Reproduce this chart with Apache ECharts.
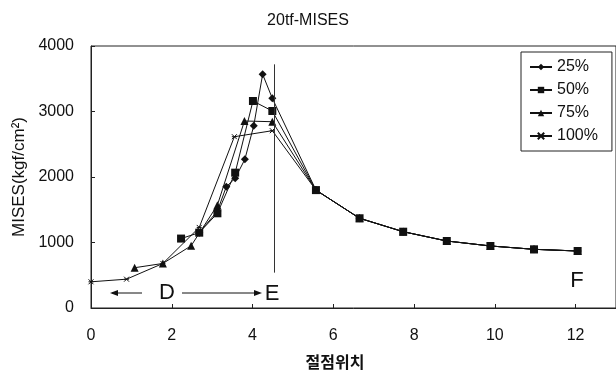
<!DOCTYPE html>
<html>
<head>
<meta charset="utf-8">
<script src="https://cdn.jsdelivr.net/npm/echarts@6/dist/echarts.min.js"></script>
<style>
  html, body { margin: 0; padding: 0; background: #fff; }
  #chart { width: 616px; height: 378px; }
</style>
</head>
<body>
<div id="chart"></div>
<script>
// node positions / MISES values
const tailX = [5.57, 6.65, 7.73, 8.81, 9.89, 10.97, 12.05];
const tailY = [1800, 1370, 1165, 1023, 947, 896, 870];

const x25 = [2.68, 3.13, 3.35, 3.57, 3.81, 4.03, 4.25, 4.49];
const y25 = [1150, 1480, 1852, 1980, 2270, 2783, 3568, 3201];

const x50 = [2.23, 2.68, 3.13, 3.57, 4.01, 4.49];
const y50 = [1060, 1150, 1446, 2066, 3160, 3008];

const x75 = [1.08, 1.78, 2.48, 3.13, 3.8, 4.49];
const y75 = [615, 680, 950, 1570, 2855, 2844];

const x100 = [0, 0.88, 1.78, 2.68, 3.55, 4.49];
const y100 = [400, 440, 680, 1230, 2615, 2707];

const seriesNames = ['25%', '50%', '75%', '100%'];
const eLineX = 4.54;

const fontFamily = 'Liberation Sans, Arial, sans-serif';

function pts(xs, ys) {
  const out = xs.map((x, i) => [x, ys[i]]);
  tailX.forEach((x, i) => out.push([x, tailY[i]]));
  return out;
}

const crossPath = 'path://M0,0 L10,10 M10,0 L0,10 M0,5 L10,5';

const dom = document.getElementById('chart');
const myChart = echarts.init(dom);

const lineBase = {
  type: 'line',
  lineStyle: { color: '#111', width: 1 },
  itemStyle: { color: '#111' },
  animation: false,
};

const option = {
  backgroundColor: '#FFFFFF',
  textStyle: { fontFamily: fontFamily },
  title: {
    text: '20tf-MISES',
    left: 'center',
    top: 8,
    textStyle: { fontSize: 16, fontWeight: 'normal', color: '#111', fontFamily: fontFamily },
  },
  legend: {
    orient: 'vertical',
    left: 521,
    top: 52,
    padding: [7, 14, 7, 8],
    itemGap: 7,
    itemWidth: 22,
    itemHeight: 8,
    borderColor: '#222',
    borderWidth: 1,
    backgroundColor: '#fff',
    textStyle: { fontSize: 16, color: '#111', fontFamily: fontFamily },
    data: seriesNames,
  },
  grid: {
    left: 91,
    right: -3,
    top: 46,
    bottom: 70,
    show: true,
    borderColor: '#222',
    borderWidth: 1,
  },
  xAxis: {
    type: 'value',
    min: 0,
    max: 13,
    interval: 2,
    axisLine: { show: true, lineStyle: { color: '#222' } },
    axisTick: { show: true, inside: true, length: 4, lineStyle: { color: '#222' } },
    axisLabel: {
      fontSize: 16,
      color: '#111',
      margin: 20,
      showMaxLabel: false,
    },
    splitLine: { show: false },
  },
  yAxis: {
    type: 'value',
    min: 0,
    max: 4000,
    interval: 1000,
    name: 'MISES(kgf/cm²)',
    nameLocation: 'middle',
    nameGap: 56,
    nameTextStyle: { fontSize: 17, color: '#111' },
    axisLine: { show: true, lineStyle: { color: '#222' } },
    axisTick: { show: true, inside: true, length: 4, lineStyle: { color: '#222' } },
    axisLabel: { fontSize: 16, color: '#111', margin: 17, formatter: (v) => String(v) },
    splitLine: { show: false },
  },
  graphic: [
    {
      type: 'text',
      x: 335,
      y: 362,
      style: {
        text: '절점위치', fontSize: 16, fontWeight: 'bold', fill: '#111',
        align: 'center', verticalAlign: 'middle', fontFamily: 'Noto Sans CJK KR',
      },
    },
    {
      type: 'text',
      x: 167,
      y: 293,
      style: { text: 'D', fontSize: 22, fill: '#111', align: 'center', verticalAlign: 'middle', fontFamily: fontFamily },
    },
    {
      type: 'text',
      x: 272,
      y: 294,
      style: { text: 'E', fontSize: 22, fill: '#111', align: 'center', verticalAlign: 'middle', fontFamily: fontFamily },
    },
    {
      type: 'text',
      x: 577,
      y: 281,
      style: { text: 'F', fontSize: 22, fill: '#111', align: 'center', verticalAlign: 'middle', fontFamily: fontFamily },
    },
    // D <-  -> E arrows
    { type: 'line', shape: { x1: 112, y1: 293, x2: 142, y2: 293 }, style: { stroke: '#111', lineWidth: 1 } },
    { type: 'polygon', shape: { points: [[110, 293], [118, 290], [118, 296]] }, style: { fill: '#111' } },
    { type: 'line', shape: { x1: 182, y1: 293, x2: 258, y2: 293 }, style: { stroke: '#111', lineWidth: 1 } },
    { type: 'polygon', shape: { points: [[262, 293], [254, 290], [254, 296]] }, style: { fill: '#111' } },
  ],
  series: [
    Object.assign({}, lineBase, {
      name: seriesNames[0],
      symbol: 'diamond',
      symbolSize: 8,
      data: pts(x25, y25),
      markLine: {
        silent: true,
        symbol: 'none',
        label: { show: false },
        lineStyle: { color: '#333', width: 1, type: 'solid' },
        data: [[{ coord: [eLineX, 3720] }, { coord: [eLineX, 540] }]],
      },
    }),
    Object.assign({}, lineBase, {
      name: seriesNames[1],
      symbol: 'rect',
      symbolSize: 8,
      data: pts(x50, y50),
    }),
    Object.assign({}, lineBase, {
      name: seriesNames[2],
      symbol: 'triangle',
      symbolSize: 8,
      data: pts(x75, y75),
    }),
    Object.assign({}, lineBase, {
      name: seriesNames[3],
      symbol: crossPath,
      symbolSize: 5,
      itemStyle: { color: '#111', borderColor: '#111', borderWidth: 1 },
      data: pts(x100, y100),
    }),
  ],
};

myChart.setOption(option);

window.addEventListener('resize', () => {
  myChart.resize();
});
</script>
</body>
</html>
